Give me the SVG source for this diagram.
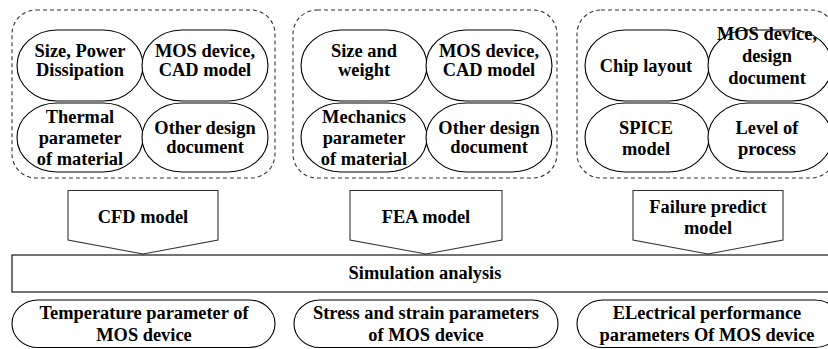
<svg xmlns="http://www.w3.org/2000/svg" width="828" height="349" viewBox="0 0 828 349">
<style>
.grp{fill:none;stroke:#333;stroke-width:1.1;stroke-dasharray:4,3}
.ov{fill:#fff;stroke:#000;stroke-width:1.1}
.pent{fill:#fff;stroke:#333;stroke-width:1.1}
.bar{fill:#fff;stroke:#000;stroke-width:1.1}
.t{font-family:Liberation Serif,serif;font-weight:700;font-size:18.4px;fill:#000;text-anchor:middle}
</style>
<rect width="828" height="349" fill="#fff"/>
<g id="group1">
<rect class="grp" x="12" y="10" width="263" height="168" rx="24" ry="24"/>
<g id="n1a"><rect class="ov" x="17" y="30" width="126" height="71" rx="40" ry="35.5"/><text class="t" x="80" y="57">Size, Power</text><text class="t" x="80" y="76">Dissipation</text></g>
<g id="n1b"><rect class="ov" x="142" y="30" width="126" height="71" rx="40" ry="35.5"/><text class="t" x="205" y="57">MOS device,</text><text class="t" x="205" y="76">CAD model</text></g>
<g id="n1c"><rect class="ov" x="17" y="103" width="126" height="69" rx="40" ry="34.5"/><text class="t" x="80" y="123">Thermal</text><text class="t" x="80" y="144">parameter</text><text class="t" x="80" y="165">of material</text></g>
<g id="n1d"><rect class="ov" x="142" y="103" width="126" height="69" rx="40" ry="34.5"/><text class="t" x="205" y="134">Other design</text><text class="t" x="205" y="153">document</text></g>
</g>
<g id="group2">
<rect class="grp" x="293" y="10" width="264" height="168" rx="24" ry="24"/>
<g id="n2a"><rect class="ov" x="301" y="30" width="126" height="71" rx="40" ry="35.5"/><text class="t" x="364" y="57">Size and</text><text class="t" x="364" y="76">weight</text></g>
<g id="n2b"><rect class="ov" x="426" y="30" width="126" height="71" rx="40" ry="35.5"/><text class="t" x="489" y="57">MOS device,</text><text class="t" x="489" y="76">CAD model</text></g>
<g id="n2c"><rect class="ov" x="301" y="103" width="126" height="69" rx="40" ry="34.5"/><text class="t" x="364" y="123">Mechanics</text><text class="t" x="364" y="144">parameter</text><text class="t" x="364" y="165">of material</text></g>
<g id="n2d"><rect class="ov" x="426" y="103" width="126" height="69" rx="40" ry="34.5"/><text class="t" x="489" y="134">Other design</text><text class="t" x="489" y="153">document</text></g>
</g>
<g id="group3">
<rect class="grp" x="577" y="10" width="258" height="168" rx="24" ry="24"/>
<g id="n3a"><rect class="ov" x="585" y="30" width="124" height="71" rx="40" ry="35.5"/><text class="t" x="646" y="72">Chip layout</text></g>
<g id="n3b"><rect class="ov" x="708" y="30" width="124" height="71" rx="40" ry="35.5"/><text class="t" x="767" y="40">MOS device,</text><text class="t" x="767" y="62">design</text><text class="t" x="767" y="84">document</text></g>
<g id="n3c"><rect class="ov" x="585" y="103" width="124" height="69" rx="40" ry="34.5"/><text class="t" x="646" y="134">SPICE</text><text class="t" x="646" y="155">model</text></g>
<g id="n3d"><rect class="ov" x="708" y="103" width="124" height="69" rx="40" ry="34.5"/><text class="t" x="767" y="134">Level of</text><text class="t" x="767" y="155">process</text></g>
</g>
<g id="connectors">
<g id="cfd"><polygon class="pent" points="68,190.5 218,190.5 218,240 143,254 68,240"/><text class="t" x="143" y="223">CFD model</text></g>
<g id="fea"><polygon class="pent" points="350,190.5 502,190.5 502,240 426,254 350,240"/><text class="t" x="426" y="223">FEA model</text></g>
<g id="fpm"><polygon class="pent" points="633,190.5 783,190.5 783,240 708,254 633,240"/><text class="t" x="708" y="213">Failure predict</text><text class="t" x="708" y="234">model</text></g>
</g>
<g id="sim"><rect class="bar" x="12" y="255" width="830" height="37"/><text class="t" x="425" y="279">Simulation analysis</text></g>
<g id="out1"><rect class="ov" x="12" y="300" width="263" height="47.5" rx="26" ry="23.75"/><text class="t" x="144" y="319">Temperature parameter of</text><text class="t" x="144" y="341">MOS device</text></g>
<g id="out2"><rect class="ov" x="294" y="300" width="264" height="47.5" rx="26" ry="23.75"/><text class="t" x="426" y="319">Stress and strain parameters</text><text class="t" x="426" y="341">of MOS device</text></g>
<g id="out3"><rect class="ov" x="577" y="300" width="264" height="47.5" rx="26" ry="23.75"/><text class="t" x="707" y="319">ELectrical performance</text><text class="t" x="707" y="341">parameters Of MOS device</text></g>
</svg>
